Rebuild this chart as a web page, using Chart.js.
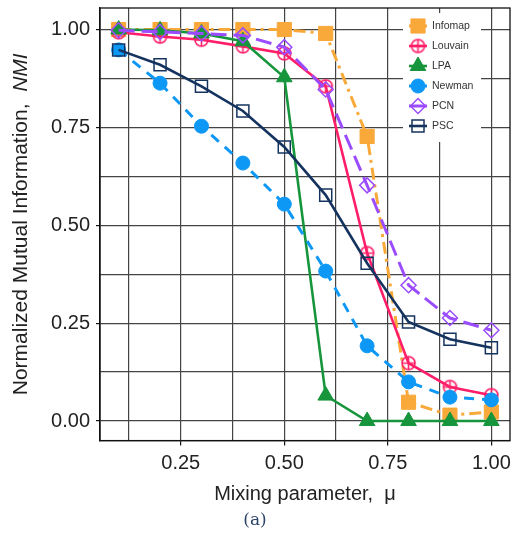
<!DOCTYPE html>
<html>
<head>
<meta charset="utf-8">
<script src="https://cdn.jsdelivr.net/npm/chart.js@4/dist/chart.umd.min.js"></script>
<style>
  html, body { margin: 0; padding: 0; background: #fff; }
  #wrap { width: 515px; height: 545px; position: relative; }
</style>
</head>
<body>
<div id="wrap"><canvas id="c"></canvas></div>
<script>
// Mixing parameter values (x) and NMI per algorithm (y)
const mixing  = [0.1, 0.2, 0.3, 0.4, 0.5, 0.6, 0.7, 0.8, 0.9, 1.0];
const infomap = [1.0, 1.0, 1.0, 1.0, 1.0, 0.99, 0.727, 0.048, 0.015, 0.023];
const louvain = [0.993, 0.982, 0.974, 0.957, 0.939, 0.855, 0.429, 0.148, 0.087, 0.066];
const lpa     = [1.0, 0.998, 0.99, 0.97, 0.878, 0.065, 0.0, 0.0, 0.0, 0.0];
const newman  = [0.948, 0.863, 0.753, 0.659, 0.554, 0.383, 0.192, 0.1, 0.061, 0.054];
const pcn     = [0.998, 0.994, 0.99, 0.985, 0.955, 0.847, 0.602, 0.347, 0.263, 0.232];
const psc     = [0.948, 0.91, 0.855, 0.792, 0.70, 0.577, 0.403, 0.253, 0.209, 0.187];

const seriesNames = ['Infomap', 'Louvain', 'LPA', 'Newman', 'PCN', 'PSC'];

// Grid positions and the subset that carries labels
const xGrid    = [0.125, 0.25, 0.375, 0.5, 0.625, 0.75, 0.875, 1.0];
const xLabeled = [0.25, 0.5, 0.75, 1.0];
const yGrid    = [0, 0.125, 0.25, 0.375, 0.5, 0.625, 0.75, 0.875, 1.0];
const yLabeled = [0, 0.25, 0.5, 0.75, 1.0];

const FONT = "'Liberation Sans', Arial, Helvetica, sans-serif";

// Open circle with a cross inside (marker for Louvain)
function ringCross(color, r, lw) {
  const s = Math.ceil(2 * r + lw + 2);
  const c = document.createElement('canvas');
  c.width = c.height = s;
  const g = c.getContext('2d');
  const m = s / 2;
  g.strokeStyle = color;
  g.lineWidth = lw;
  g.beginPath();
  g.arc(m, m, r, 0, Math.PI * 2);
  g.moveTo(m - r, m); g.lineTo(m + r, m);
  g.moveTo(m, m - r); g.lineTo(m, m + r);
  g.stroke();
  return c;
}

const C_INFOMAP = '#F9A83A';
const C_LOUVAIN = '#FF1E68';
const C_LPA     = '#17953C';
const C_NEWMAN  = '#0E98F6';
const C_PCN     = '#9B4CFF';
const C_PSC     = '#15335F';

const louvainMarker = ringCross(C_LOUVAIN, 6.5, 1.6);

function pts(ys) { return mixing.map((x, i) => ({ x: x, y: ys[i] })); }

const datasets = [
  { label: seriesNames[0], data: pts(infomap), borderColor: C_INFOMAP, backgroundColor: C_INFOMAP,
    borderWidth: 3, borderDash: [12, 5, 3, 5], pointStyle: 'rect', pointRadius: 10,
    pointBackgroundColor: C_INFOMAP, pointBorderColor: C_INFOMAP, pointBorderWidth: 1, order: 6 },
  { label: seriesNames[1], data: pts(louvain), borderColor: C_LOUVAIN, backgroundColor: C_LOUVAIN,
    borderWidth: 2.6, pointStyle: louvainMarker, pointRadius: 7,
    pointBackgroundColor: 'rgba(0,0,0,0)', pointBorderColor: C_LOUVAIN, order: 5 },
  { label: seriesNames[2], data: pts(lpa), borderColor: C_LPA, backgroundColor: C_LPA,
    borderWidth: 2.6, pointStyle: 'triangle', pointRadius: 9,
    pointBackgroundColor: C_LPA, pointBorderColor: C_LPA, pointBorderWidth: 1, order: 4 },
  { label: seriesNames[3], data: pts(newman), borderColor: C_NEWMAN, backgroundColor: C_NEWMAN,
    borderWidth: 3, borderDash: [10, 8], pointStyle: 'circle', pointRadius: 7,
    pointBackgroundColor: C_NEWMAN, pointBorderColor: C_NEWMAN, pointBorderWidth: 1, order: 3 },
  { label: seriesNames[4], data: pts(pcn), borderColor: C_PCN, backgroundColor: C_PCN,
    borderWidth: 3, borderDash: [16, 7], pointStyle: 'rectRot', pointRadius: 7.5,
    pointBackgroundColor: 'rgba(0,0,0,0)', pointBorderColor: C_PCN, pointBorderWidth: 1.5, order: 2 },
  { label: seriesNames[5], data: pts(psc), borderColor: C_PSC, backgroundColor: C_PSC,
    borderWidth: 2.6, pointStyle: 'rect', pointRadius: 8.5,
    pointBackgroundColor: 'rgba(0,0,0,0)', pointBorderColor: C_PSC, pointBorderWidth: 1.5, order: 1 }
];

// Legend in the upper right of the plot: line sample, marker, name
const insetLegend = {
  id: 'insetLegend',
  afterDatasetsDraw(chart) {
    const ctx = chart.ctx;
    const a = chart.chartArea;
    const bx = a.right - 107, by = a.top + 5, bw = 78, bh = 129;
    ctx.save();
    ctx.fillStyle = '#fff';
    ctx.fillRect(bx, by, bw, bh);
    chart.data.datasets.forEach((ds, i) => {
      const cy = by + 13 + i * 20;
      const cx = bx + 15;
      ctx.strokeStyle = ds.borderColor;
      ctx.lineWidth = ds.borderWidth;
      ctx.setLineDash([]);
      ctx.beginPath();
      ctx.moveTo(cx - 9, cy); ctx.lineTo(cx + 9, cy);
      ctx.stroke();
      ctx.fillStyle = ds.pointBackgroundColor;
      ctx.strokeStyle = ds.pointBorderColor;
      ctx.lineWidth = ds.pointBorderWidth || 1;
      Chart.helpers.drawPoint(ctx, {
        pointStyle: ds.pointStyle, radius: ds.pointRadius, rotation: 0,
        borderWidth: ds.pointBorderWidth || 1
      }, cx, cy);
      ctx.fillStyle = '#333';
      ctx.font = '10.5px ' + FONT;
      ctx.textAlign = 'left';
      ctx.textBaseline = 'middle';
      ctx.fillText(ds.label, bx + 29, cy + 0.5);
    });
    ctx.restore();
  }
};

// Full frame around the plotting area
const plotFrame = {
  id: 'plotFrame',
  afterDraw(chart) {
    const ctx = chart.ctx, a = chart.chartArea;
    ctx.save();
    ctx.strokeStyle = '#111';
    ctx.lineWidth = 1.3;
    ctx.strokeRect(a.left, a.top, a.right - a.left, a.bottom - a.top);
    ctx.restore();
  }
};

// Rotated y-axis title with an italic symbol
const yTitle = {
  id: 'yTitle',
  afterDraw(chart) {
    const ctx = chart.ctx, a = chart.chartArea;
    const plain = 'Normalized Mutual Information,  ';
    const sym = 'NMI';
    ctx.save();
    ctx.translate(21, (a.top + a.bottom) / 2);
    ctx.rotate(-Math.PI / 2);
    ctx.fillStyle = '#222';
    ctx.textBaseline = 'middle';
    ctx.textAlign = 'left';
    ctx.font = '21px ' + FONT;
    const w1 = ctx.measureText(plain).width;
    ctx.font = 'italic 21px ' + FONT;
    const w2 = ctx.measureText(sym).width;
    const start = -(w1 + w2) / 2;
    ctx.font = '21px ' + FONT;
    ctx.fillText(plain, start, 0);
    ctx.font = 'italic 21px ' + FONT;
    ctx.fillText(sym, start + w1, 0);
    ctx.restore();
  }
};

new Chart(document.getElementById('c'), {
  type: 'line',
  data: { datasets: datasets },
  options: {
    responsive: true,
    maintainAspectRatio: false,
    animation: false,
    layout: { autoPadding: false, padding: { left: 0, right: 5, top: 8, bottom: 0 } },
    elements: { line: { tension: 0 } },
    plugins: {
      legend: { display: false },
      tooltip: { enabled: false },
      title: {
        display: true, position: 'bottom', text: '(a)', color: '#2B4468',
        font: { family: "'DejaVu Serif', 'Liberation Serif', serif", size: 17, weight: 'normal' },
        padding: { top: 0, bottom: 14 }
      }
    },
    scales: {
      x: {
        type: 'linear', min: 0.055, max: 1.045,
        afterBuildTicks(scale) { scale.ticks = xGrid.map(v => ({ value: v })); },
        afterFit(scale) { scale.height = 70; scale.paddingLeft = 0; scale.paddingRight = 0; },
        ticks: {
          color: '#222', font: { family: FONT, size: 20 }, padding: 6, maxRotation: 0, autoSkip: false,
          callback: v => xLabeled.includes(v) ? v.toFixed(2) : ''
        },
        grid: {
          color: '#444', lineWidth: 1.2, tickLength: 5,
          tickColor: c => (c.tick && xLabeled.includes(c.tick.value)) ? '#111' : 'rgba(0,0,0,0)'
        },
        border: { display: true, color: '#111', width: 1.3 },
        title: {
          display: true, text: 'Mixing parameter,  \u03BC', color: '#222',
          font: { family: FONT, size: 20 }, padding: { top: 0, bottom: 4 }
        }
      },
      y: {
        type: 'linear', min: -0.05, max: 1.055,
        afterBuildTicks(scale) { scale.ticks = yGrid.map(v => ({ value: v })); },
        afterFit(scale) { scale.width = 100; scale.paddingTop = 0; scale.paddingBottom = 0; },
        ticks: {
          color: '#222', font: { family: FONT, size: 20 }, padding: 6, autoSkip: false,
          callback: v => yLabeled.includes(v) ? v.toFixed(2) : ''
        },
        grid: {
          color: '#444', lineWidth: 1.2, tickLength: 4,
          tickColor: c => (c.tick && yLabeled.includes(c.tick.value)) ? '#111' : 'rgba(0,0,0,0)'
        },
        border: { display: true, color: '#111', width: 1.3 }
      }
    }
  },
  plugins: [insetLegend, plotFrame, yTitle]
});
</script>
</body>
</html>
